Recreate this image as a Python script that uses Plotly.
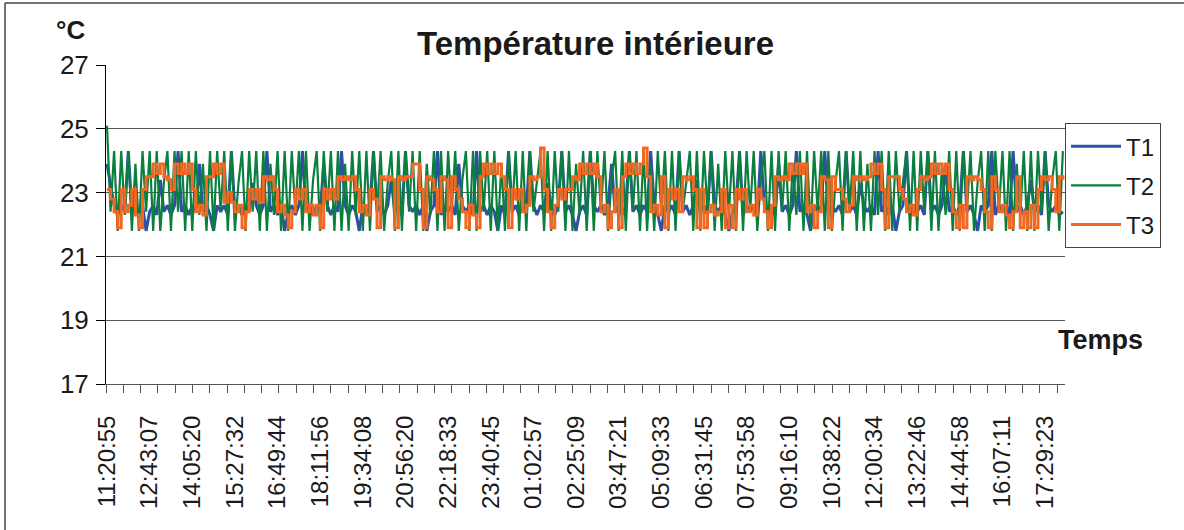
import plotly.graph_objs as go

# time labels shown on the category axis (one every 12 samples)
time_labels = ["11:20:55", "12:43:07", "14:05:20", "15:27:32", "16:49:44", "18:11:56",
               "19:34:08", "20:56:20", "22:18:33", "23:40:45", "01:02:57", "02:25:09",
               "03:47:21", "05:09:33", "06:31:45", "07:53:58", "09:16:10", "10:38:22",
               "12:00:34", "13:22:46", "14:44:58", "16:07:11", "17:29:23"]
samples_per_label = 12

t1 = [23.9, 23.2, 22.6, 22.3, 22.6, 22.4, 24.3, 22.4, 22.6, 22.3, 22.6, 21.8, 22.4, 22.6, 22.3, 23.4, 22.4, 22.6,
      22.3, 22.6, 24.3, 22.4, 22.6, 22.3, 22.6, 22.4, 23.9, 22.4, 22.6, 22.3, 21.8, 22.6, 22.4, 22.6, 22.3, 24.3,
      22.4, 22.6, 22.3, 22.6, 22.4, 23.3, 22.6, 22.3, 22.6, 24.3, 22.4, 22.6, 22.3, 22.6, 21.8, 22.4, 22.6, 22.3,
      22.6, 24.3, 22.4, 22.6, 22.3, 22.6, 22.4, 23.9, 22.6, 22.3, 22.6, 22.4, 24.3, 22.6, 22.3, 22.6, 22.4, 21.8,
      22.6, 22.3, 22.6, 24.3, 22.4, 22.6, 22.3, 22.6, 23.4, 22.4, 22.6, 22.3, 24.3, 22.6, 22.4, 22.6, 22.3, 22.6,
      21.8, 22.4, 22.6, 24.3, 22.3, 22.6, 22.4, 22.6, 22.3, 23.9, 22.6, 22.4, 22.6, 22.3, 24.3, 22.4, 22.6, 22.3,
      22.6, 22.4, 21.8, 22.6, 22.3, 24.3, 22.4, 22.6, 22.3, 22.6, 22.4, 24.3, 22.6, 22.3, 22.6, 22.4, 23.3, 22.6,
      22.3, 22.6, 24.3, 22.4, 22.6, 22.3, 21.8, 22.4, 22.6, 22.3, 24.3, 22.6, 22.4, 22.6, 22.3, 22.6, 23.9, 22.4,
      22.6, 22.3, 22.6, 24.3, 22.4, 22.6, 22.3, 22.6, 22.4, 24.3, 22.6, 22.3, 21.8, 22.6, 22.4, 22.6, 22.3, 24.3,
      22.4, 22.6, 22.3, 22.6, 23.4, 22.4, 22.6, 22.3, 24.3, 22.6, 22.4, 22.6, 22.3, 21.8, 22.4, 22.6, 24.3, 22.3,
      22.6, 22.4, 22.6, 22.3, 24.3, 22.6, 22.4, 22.6, 22.3, 23.9, 22.4, 22.6, 22.3, 22.6, 24.3, 22.4, 22.6, 22.3,
      21.8, 22.6, 22.4, 22.6, 24.3, 22.3, 22.6, 22.4, 22.6, 22.3, 24.3, 22.4, 22.6, 22.3, 23.3, 22.6, 22.4, 22.6,
      22.3, 24.3, 22.4, 22.6, 22.3, 22.6, 21.8, 22.4, 22.6, 24.3, 22.3, 22.6, 22.4, 22.6, 22.3, 24.3, 22.4, 22.6,
      22.3, 22.6, 23.9, 22.4, 22.6, 22.3, 22.6, 24.3, 22.4, 22.6, 22.3, 21.8, 22.6, 22.4, 22.6, 24.3, 22.3, 22.6,
      22.4, 22.6, 22.3, 24.3, 22.4, 22.6, 22.3, 22.6, 23.4, 22.4, 22.6, 22.3, 24.3, 22.6, 22.4, 22.6, 22.3, 22.4]

t2 = [25.1, 22.4, 24.3, 21.8, 24.3, 22.3, 24.3, 21.8, 23.9, 21.8, 24.3, 22.4, 24.3, 21.8, 24.3, 21.8, 23.3, 24.3,
      21.8, 24.3, 22.4, 24.3, 21.8, 24.3, 21.8, 24.3, 22.3, 23.9, 21.8, 24.3, 21.8, 24.3, 22.4, 24.3, 21.8, 24.3,
      21.8, 23.3, 24.3, 21.8, 24.3, 22.4, 24.3, 21.8, 24.3, 21.8, 23.9, 22.3, 24.3, 21.8, 24.3, 21.8, 24.3, 22.4,
      24.3, 21.8, 24.3, 21.8, 23.4, 24.3, 21.8, 24.3, 22.4, 24.3, 21.8, 24.3, 21.8, 23.9, 21.8, 24.3, 22.3, 24.3,
      21.8, 24.3, 21.8, 24.3, 22.4, 24.3, 21.8, 23.3, 24.3, 21.8, 24.3, 21.8, 24.3, 22.4, 24.3, 21.8, 24.3, 21.8,
      23.9, 22.3, 24.3, 21.8, 24.3, 21.8, 24.3, 22.4, 24.3, 21.8, 23.4, 24.3, 21.8, 24.3, 21.8, 24.3, 22.4, 24.3,
      21.8, 24.3, 21.8, 23.9, 21.8, 24.3, 22.3, 24.3, 21.8, 24.3, 21.8, 24.3, 22.4, 23.3, 24.3, 21.8, 24.3, 21.8,
      24.3, 22.4, 24.3, 21.8, 24.3, 21.8, 23.9, 22.3, 24.3, 21.8, 24.3, 21.8, 24.3, 22.4, 24.3, 21.8, 23.4, 24.3,
      21.8, 24.3, 21.8, 24.3, 22.4, 24.3, 21.8, 24.3, 21.8, 23.9, 21.8, 24.3, 22.3, 24.3, 21.8, 24.3, 21.8, 24.3,
      22.4, 23.3, 24.3, 21.8, 24.3, 21.8, 24.3, 22.4, 24.3, 21.8, 23.9, 21.8, 24.3, 22.3, 24.3, 21.8, 24.3, 21.8,
      24.3, 22.4, 24.3, 21.8, 23.4, 24.3, 21.8, 24.3, 21.8, 24.3, 22.4, 24.3, 21.8, 23.9, 22.3, 24.3, 21.8, 24.3,
      21.8, 24.3, 22.4, 24.3, 21.8, 24.3, 21.8, 23.3, 24.3, 21.8, 24.3, 22.4, 24.3, 21.8, 24.3, 21.8, 23.9, 21.8,
      24.3, 22.3, 24.3, 21.8, 24.3, 21.8, 24.3, 22.4, 23.4, 24.3, 21.8, 24.3, 21.8, 24.3, 22.4, 24.3, 21.8, 24.3,
      21.8, 23.9, 22.3, 24.3, 21.8, 24.3, 21.8, 24.3, 22.4, 24.3, 21.8, 23.3, 24.3, 21.8, 24.3, 21.8, 24.3, 22.4,
      24.3, 21.8, 24.3, 21.8, 23.9, 22.3, 24.3, 21.8, 24.3, 21.8, 24.3, 22.4, 24.3, 21.8, 23.4, 24.3, 21.8, 24.3]

t3 = [23.1, 22.8, 22.4, 21.9, 23.1, 22.4, 22.6, 23.1, 22.3, 21.9, 23.1, 23.5, 23.5, 23.9, 23.6, 23.9, 23.5, 23.4,
      23.1, 23.9, 23.6, 23.9, 23.6, 23.9, 23.1, 22.4, 22.6, 22.3, 23.5, 23.5, 23.9, 23.6, 23.9, 22.7, 23.0, 22.7,
      22.4, 22.6, 21.9, 22.4, 23.1, 22.8, 23.1, 22.7, 23.5, 23.4, 23.5, 23.1, 22.4, 22.6, 22.3, 21.9, 22.4, 23.1,
      22.8, 23.1, 22.4, 22.6, 22.3, 22.6, 21.9, 23.1, 22.8, 23.1, 22.8, 23.5, 23.4, 23.5, 23.4, 23.5, 23.1, 22.4,
      22.6, 22.3, 23.1, 22.8, 21.9, 23.5, 23.4, 23.5, 23.4, 21.9, 23.5, 23.4, 23.5, 23.5, 23.9, 23.9, 23.1, 21.9,
      23.5, 23.4, 23.1, 22.4, 23.5, 23.4, 21.9, 23.5, 23.1, 22.8, 22.4, 21.9, 22.6, 22.3, 21.9, 23.5, 23.9, 23.6,
      23.9, 23.6, 23.9, 23.5, 23.1, 21.9, 23.1, 22.8, 23.1, 22.4, 22.6, 23.5, 23.4, 23.5, 24.4, 23.1, 22.4, 21.9,
      22.6, 23.1, 22.8, 23.1, 23.1, 23.5, 23.4, 23.9, 23.6, 23.9, 23.6, 23.9, 23.5, 22.4, 22.6, 21.9, 22.4, 23.1,
      21.9, 23.5, 23.9, 23.6, 23.9, 23.6, 23.9, 24.4, 23.5, 22.4, 22.6, 22.3, 23.5, 21.9, 23.1, 22.8, 23.1, 22.4,
      23.5, 23.4, 23.5, 23.1, 21.9, 23.1, 21.9, 22.4, 22.6, 22.3, 22.4, 23.1, 21.9, 22.6, 21.9, 23.1, 22.8, 23.1,
      22.4, 22.6, 22.3, 23.1, 22.8, 22.4, 21.9, 22.6, 23.5, 23.4, 23.5, 23.4, 23.9, 23.6, 23.9, 23.6, 23.9, 22.4,
      22.6, 21.9, 22.4, 23.5, 23.4, 21.9, 23.5, 23.1, 23.1, 22.8, 22.4, 22.6, 23.5, 23.4, 23.5, 23.4, 23.5, 23.9,
      23.6, 23.9, 23.1, 21.9, 23.5, 23.5, 23.5, 23.1, 22.8, 22.4, 22.6, 22.3, 23.1, 23.5, 23.4, 23.5, 23.9, 23.6,
      23.9, 23.6, 23.9, 23.1, 22.4, 21.9, 22.6, 21.9, 23.5, 23.4, 23.5, 23.4, 23.1, 22.4, 21.9, 23.5, 23.1, 22.4,
      22.6, 22.3, 21.9, 22.4, 23.5, 21.9, 22.4, 21.9, 22.6, 21.9, 23.1, 23.5, 23.4, 23.5, 23.1, 22.4, 23.5, 23.4]

series_names = ["T1", "T2", "T3"]
series_colors = ["#2E50A4", "#0B7F3E", "#F26722"]
series_widths = [3, 2.2, 3]
series_shapes = ["linear", "linear", "hv"]

font_family = "Liberation Sans, Arial, sans-serif"
n = len(t1)
x = list(range(n))

fig = go.Figure()
for name, vals, color, w, shp in zip(series_names, [t1, t2, t3], series_colors,
                                     series_widths, series_shapes):
    fig.add_trace(go.Scatter(x=x, y=vals, name=name, mode="lines", legendgroup=name,
                             line=dict(color=color, width=w, shape=shp)))

fig.update_layout(
    width=1184, height=530,
    margin=dict(l=106, r=119, t=65, b=146),
    paper_bgcolor="white", plot_bgcolor="white",
    font=dict(family=font_family, color="#1a1a1a", size=24),
    showlegend=True,
    legend=dict(x=1.0, xanchor="left", y=0.818, yanchor="top",
                bordercolor="#444", borderwidth=1, bgcolor="white",
                font=dict(size=24), tracegroupgap=5, itemwidth=50),
)

fig.update_yaxes(
    range=[17, 27], dtick=2, tick0=17,
    showline=True, linecolor="black", linewidth=1,
    ticks="outside", ticklen=9, tickcolor="black",
    showgrid=True, gridcolor="#555", gridwidth=1, zeroline=False,
    tickfont=dict(size=26), ticklabelstandoff=2,
)

fig.update_xaxes(
    range=[-0.28, 269.6],
    tickmode="array",
    tickvals=[k * samples_per_label for k in range(len(time_labels))],
    ticktext=time_labels,
    tickangle=-90, ticks="", tickfont=dict(size=24), ticklabelstandoff=21,
    showline=True, linecolor="#555", linewidth=1,
    showgrid=False, zeroline=False,
    minor=dict(tickmode="linear", tick0=-0.28, dtick=4.866, ticks="outside",
               ticklen=8, tickcolor="#555", showgrid=False),
)

fig.add_annotation(text="<b>Température intérieure</b>", xref="paper", yref="paper",
                   x=0.51, y=1.066, xanchor="center", yanchor="middle",
                   showarrow=False, font=dict(size=33))
fig.add_annotation(text="<b>°C</b>", xref="paper", yref="paper",
                   x=-0.0365, y=1.11, xanchor="center", yanchor="middle",
                   showarrow=False, font=dict(size=26))
fig.add_annotation(text="<b>Temps</b>", xref="paper", yref="paper",
                   x=1.0375, y=0.138, xanchor="center", yanchor="middle",
                   showarrow=False, font=dict(size=27))

# chart frame (only top and left edges are visible in the crop)
fig.add_shape(type="line", xref="paper", yref="paper", x0=-0.1053, x1=1.2, y0=1.194, y1=1.194,
              line=dict(color="#444", width=1.5))
fig.add_shape(type="line", xref="paper", yref="paper", x0=-0.1053, x1=-0.1053, y0=1.194, y1=-0.5,
              line=dict(color="#444", width=1.5))

# drop the default page margin so the figure sits at the window's corner
fig.write_html("out.html", config={"displayModeBar": False},
               post_script="document.body.style.margin='0';")
